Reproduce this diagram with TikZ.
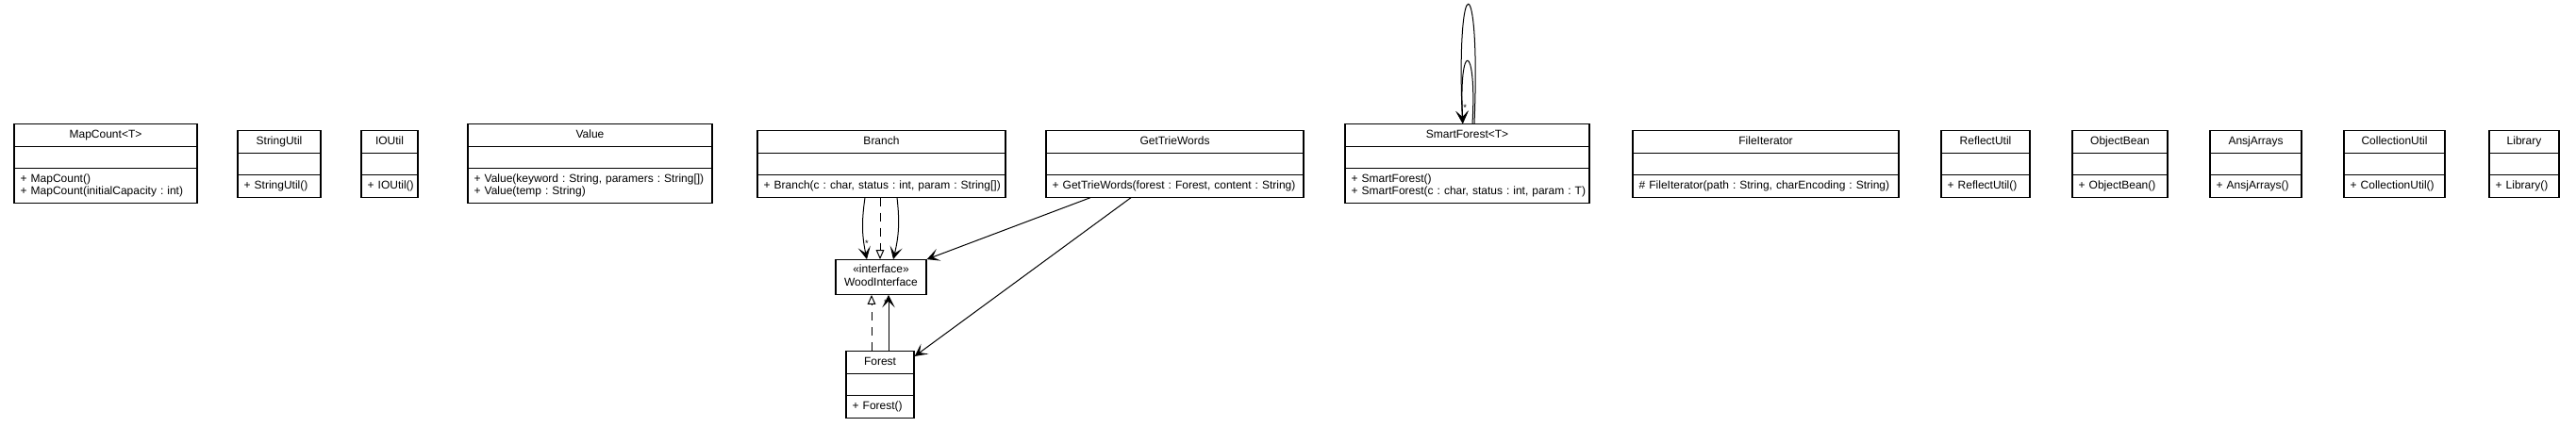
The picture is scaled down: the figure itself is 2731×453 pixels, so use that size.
\documentclass[tikz,border=0pt]{standalone}
\usepackage{fontspec}
\setmainfont{Liberation Sans}
\usepackage{tikz}
\usetikzlibrary{shapes.multipart,arrows.meta,calc}
\frenchspacing

\begin{document}
\begin{tikzpicture}[x=0.75pt,y=-0.75pt,
  cls/.style={draw,line width=0.9pt,fill=white,rectangle split,rectangle split parts=3,
    anchor=north,inner xsep=5pt,inner ysep=3.3pt,
    font=\fontsize{9}{10.125}\selectfont},
  iface/.style={draw,line width=0.9pt,fill=white,align=center,minimum width=72pt,
    inner ysep=3.6pt,font=\fontsize{9}{10.125}\selectfont},
  assoc/.style={line width=0.75pt,-{Stealth[length=10pt,width=10pt,inset=5pt]}},
  realize/.style={line width=0.75pt,dash pattern=on 7pt off 5pt,
    -{Triangle[open,length=7.5pt,width=6.5pt]}},
  star/.style={font=\fontsize{7}{7}\selectfont,inner sep=0.5pt}]
\useasboundingbox (0,0) rectangle (2731,453);

% classes of the upper row
\node[cls,text width=135.5pt] (mapcount) at (112,131) {\centering MapCount<T>\strut\par\nodepart{second}\strut\nodepart{third}\mbox{+ MapCount()}\strut\newline\mbox{+ MapCount(initialCapacity : int)}\strut};
\node[cls,text width=56pt] (stringutil) at (296,138) {\centering StringUtil\strut\par\nodepart{second}\strut\nodepart{third}\mbox{+ StringUtil()}\strut};
\node[cls,text width=35pt] (ioutil) at (413,138) {\centering IOUtil\strut\par\nodepart{second}\strut\nodepart{third}\mbox{+ IOUtil()}\strut};
\node[cls,text width=184.25pt] (value) at (625.5,131) {\centering Value\strut\par\nodepart{second}\strut\nodepart{third}\mbox{+ Value(keyword : String, paramers : String[])}\strut\newline\mbox{+ Value(temp : String)}\strut};
\node[cls,text width=187.25pt] (branch) at (934.5,138) {\centering Branch\strut\par\nodepart{second}\strut\nodepart{third}\mbox{+ Branch(c : char, status : int, param : String[])}\strut};
\node[cls,text width=194.75pt] (gettrie) at (1245.5,138) {\centering GetTrieWords\strut\par\nodepart{second}\strut\nodepart{third}\mbox{+ GetTrieWords(forest : Forest, content : String)}\strut};
\node[cls,text width=184.25pt] (smart) at (1555.5,131) {\centering SmartForest<T>\strut\par\nodepart{second}\strut\nodepart{third}\mbox{+ SmartForest()}\strut\newline\mbox{+ SmartForest(c : char, status : int, param : T)}\strut};
\node[cls,text width=201.5pt] (fileiter) at (1872,138) {\centering FileIterator\strut\par\nodepart{second}\strut\nodepart{third}\mbox{\# FileIterator(path : String, charEncoding : String)}\strut};
\node[cls,text width=60.5pt] (reflect) at (2105,138) {\centering ReflectUtil\strut\par\nodepart{second}\strut\nodepart{third}\mbox{+ ReflectUtil()}\strut};
\node[cls,text width=65.75pt] (objbean) at (2247.5,138) {\centering ObjectBean\strut\par\nodepart{second}\strut\nodepart{third}\mbox{+ ObjectBean()}\strut};
\node[cls,text width=62.75pt] (ansj) at (2391.5,138) {\centering AnsjArrays\strut\par\nodepart{second}\strut\nodepart{third}\mbox{+ AnsjArrays()}\strut};
\node[cls,text width=70.25pt] (collutil) at (2538.5,138) {\centering CollectionUtil\strut\par\nodepart{second}\strut\nodepart{third}\mbox{+ CollectionUtil()}\strut};
\node[cls,text width=45.5pt] (library) at (2676,138) {\centering Library\strut\par\nodepart{second}\strut\nodepart{third}\mbox{+ Library()}\strut};

% interface and forest
\node[iface] (wood) at (934,294) {«interface»\strut\\WoodInterface\strut};
\node[cls,text width=44pt] (forest) at (933,372) {\centering Forest\strut\par\nodepart{second}\strut\nodepart{third}\mbox{+ Forest()}\strut};

% links
\draw[assoc] ($(branch.south)+(-17.5,0)$) to[bend right=10] node[star,pos=.75,right]{*} ($(wood.north)+(-15,0)$);
\draw[realize] ($(branch.south)+(-1.5,0)$) -- ($(wood.north)+(-1,0)$);
\draw[assoc] ($(branch.south)+(16.5,0)$) to[bend left=10] ($(wood.north)+(13,0)$);
\draw[realize] ($(forest.north)+(-9,0)$) -- ($(wood.south)+(-10,0)$);
\draw[assoc] ($(forest.north)+(9,0)$) -- node[star,pos=.86,left]{*} ($(wood.south)+(8,0)$);
\draw[assoc] ($(gettrie.south)+(-89.5,0)$) -- (wood.north east);
\draw[assoc] ($(gettrie.south)+(-46.5,0)$) -- ($(forest.north east)+(0,6)$);
\draw[assoc] ($(smart.north)+(7.5,0)$) .. controls +(7,-168) and +(-7,-168) .. ($(smart.north)+(-5,0)$);
\draw[assoc] ($(smart.north)+(5.5,0)$) .. controls +(5,-88) and +(-5,-88) .. node[star,pos=.93,right]{*} ($(smart.north)+(-4.5,0)$);
\end{tikzpicture}
\end{document}
